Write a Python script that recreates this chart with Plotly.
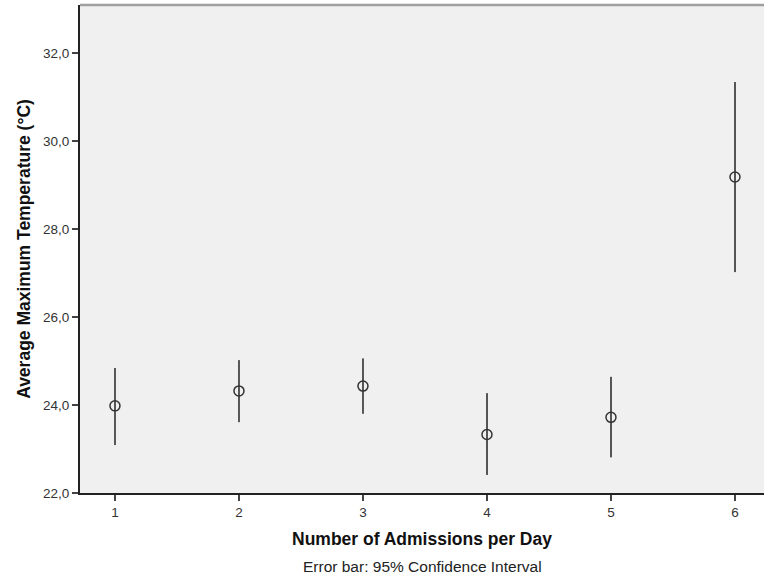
import plotly.graph_objects as go

# Admissions per day vs. mean maximum temperature with 95% CI
admissions = [1, 2, 3, 4, 5, 6]
mean_temp = [23.98, 24.32, 24.43, 23.33, 23.72, 29.18]
ci_upper = [24.84, 25.02, 25.06, 24.27, 24.64, 31.34]
ci_lower = [23.09, 23.61, 23.80, 22.41, 22.81, 27.02]
y_ticks = [22, 24, 26, 28, 30, 32]

err_plus = [u - m for u, m in zip(ci_upper, mean_temp)]
err_minus = [m - l for m, l in zip(mean_temp, ci_lower)]

fig = go.Figure()
fig.add_trace(go.Scatter(
    x=admissions, y=mean_temp, mode="markers",
    marker=dict(symbol="circle-open", size=10, color="#333333", line=dict(width=1.5)),
    error_y=dict(type="data", symmetric=False, array=err_plus, arrayminus=err_minus,
                 width=0, thickness=2, color="#555555"),
    showlegend=False,
))

font_family = "Liberation Sans, Arial, sans-serif"

fig.update_layout(
    width=764, height=576,
    margin=dict(l=80, r=0, t=5, b=83),
    paper_bgcolor="white",
    plot_bgcolor="#f0f0f0",
    separators=",.",
    font=dict(family=font_family, size=13, color="#333333"),
    xaxis=dict(
        range=[0.718, 6.234], tickvals=admissions, ticktext=[str(a) for a in admissions],
        showgrid=False, zeroline=False, showline=True, linecolor="#222222", linewidth=2,
        ticks="outside", ticklen=6, tickwidth=2, tickcolor="#444444",
        tickfont=dict(size=13.5, color="#333333"),
        title=dict(text="<b>Number of Admissions per Day</b>", standoff=14,
                   font=dict(size=17.5, color="#111111")),
    ),
    yaxis=dict(
        range=[22, 33.09], tickvals=y_ticks, tickformat=".1f",
        showgrid=False, zeroline=False, showline=True, linecolor="#222222", linewidth=2,
        ticks="outside", ticklen=6, tickwidth=2, tickcolor="#444444",
        tickfont=dict(size=13.5, color="#333333"),
        title=dict(text="<b>Average Maximum Temperature (°C)</b>", standoff=8,
                   font=dict(size=17.5, color="#111111")),
    ),
    shapes=[dict(type="line", xref="paper", yref="paper", x0=0, x1=1, y0=1, y1=1,
                 line=dict(color="#a0a0a0", width=2.5))],
    annotations=[dict(text="Error bar: 95% Confidence Interval", xref="paper", yref="paper",
                      x=0.5, y=-0.15, yanchor="middle", showarrow=False,
                      font=dict(size=15.5, color="#222222"))],
)

fig.write_html("out.html")
